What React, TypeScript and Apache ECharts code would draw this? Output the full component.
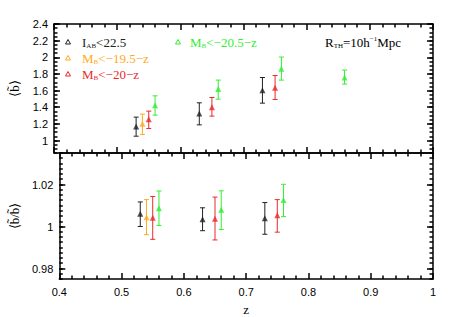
import React, { useEffect, useRef } from "react";
import * as echarts from "echarts";

// ---------- data ----------
// Top panel: <b~> vs z
const topBlackZ = [0.53, 0.63, 0.73];
const topBlackB = [1.168, 1.324, 1.605];
const topBlackLo = [1.052, 1.188, 1.449];
const topBlackHi = [1.281, 1.453, 1.757];

const topOrangeZ = [0.54];
const topOrangeB = [1.2];
const topOrangeLo = [1.072];
const topOrangeHi = [1.317];

const topRedZ = [0.55, 0.65, 0.75];
const topRedB = [1.257, 1.401, 1.633];
const topRedLo = [1.144, 1.293, 1.493];
const topRedHi = [1.353, 1.517, 1.781];

const topGreenZ = [0.56, 0.66, 0.76, 0.86];
const topGreenB = [1.425, 1.618, 1.862, 1.757];
const topGreenLo = [1.305, 1.497, 1.726, 1.678];
const topGreenHi = [1.537, 1.726, 2.003, 1.846];

// Bottom panel: <b~/b> vs z
const botBlackZ = [0.53, 0.63, 0.73];
const botBlackR = [1.0061, 1.0034, 1.0039];
const botBlackLo = [1.0, 0.998, 0.9963];
const botBlackHi = [1.0117, 1.0089, 1.0114];

const botOrangeZ = [0.54];
const botOrangeR = [1.0044];
const botOrangeLo = [0.9961];
const botOrangeHi = [1.0128];

const botRedZ = [0.55, 0.65, 0.75];
const botRedR = [1.0042, 1.0037, 1.0053];
const botRedLo = [0.9939, 0.9936, 0.9973];
const botRedHi = [1.0143, 1.014, 1.0128];

const botGreenZ = [0.56, 0.66, 0.76];
const botGreenR = [1.0087, 1.008, 1.0126];
const botGreenLo = [1.0005, 0.9986, 1.0047];
const botGreenHi = [1.0169, 1.017, 1.0201];

const topMajorTicks = [1, 1.2, 1.4, 1.6, 1.8, 2, 2.2, 2.4];
const botMajorTicks = [0.98, 1, 1.02];

const BLACK = "#222222";
const ORANGE = "#ffaa22";
const RED = "#e82a2a";
const GREEN = "#33ee33";

const SANS = "Liberation Sans";
const SERIF = "Liberation Serif";

function errSeries(name: string, z: number[], lo: number[], hi: number[], color: string, gi: number) {
  return {
    type: "custom",
    name: name + " err",
    xAxisIndex: gi * 2,
    yAxisIndex: gi * 4,
    data: z.map((v, i) => [v, lo[i], hi[i]]),
    encode: { x: 0, y: [1, 2] },
    renderItem: (params: any, api: any) => {
      const x = api.value(0);
      const p1 = api.coord([x, api.value(1)]);
      const p2 = api.coord([x, api.value(2)]);
      const w = 2.5;
      const style = { stroke: color, lineWidth: 1 };
      return {
        type: "group",
        children: [
          { type: "line", shape: { x1: p1[0], y1: p1[1], x2: p2[0], y2: p2[1] }, style },
          { type: "line", shape: { x1: p1[0] - w, y1: p1[1], x2: p1[0] + w, y2: p1[1] }, style },
          { type: "line", shape: { x1: p2[0] - w, y1: p2[1], x2: p2[0] + w, y2: p2[1] }, style },
        ],
      };
    },
    silent: true,
  };
}

function ptSeries(name: string, z: number[], b: number[], color: string, gi: number) {
  return {
    type: "scatter",
    name,
    xAxisIndex: gi * 2,
    yAxisIndex: gi * 4,
    data: z.map((v, i) => [v, b[i]]),
    symbol: "triangle",
    symbolSize: 6,
    itemStyle: { color },
    z: 5,
  };
}

function xAxes(gi: number, showLabels: boolean) {
  const common = {
    type: "value",
    gridIndex: gi,
    min: 0.4,
    max: 1,
    interval: 0.1,
    axisLine: { show: true, onZero: false, lineStyle: { color: "#000", width: 1.5 } },
    axisTick: { show: true, inside: true, length: 6, lineStyle: { color: "#000", width: 1.5 } },
    minorTick: { show: true, splitNumber: 5, length: 3.5, lineStyle: { color: "#000", width: 1.5 } },
    splitLine: { show: false },
    minorSplitLine: { show: false },
  };
  return [
    {
      ...common,
      position: "bottom",
      axisLabel: {
        show: showLabels,
        color: "#000",
        fontFamily: SANS,
        fontSize: 11,
        margin: 7,
        formatter: (v: number) => String(Math.round(v * 10) / 10),
      },
      name: showLabels ? "z" : "",
      nameLocation: "middle",
      nameGap: 24,
      nameTextStyle: { color: "#000", fontFamily: SERIF, fontSize: 13 },
    },
    { ...common, position: "top", axisLabel: { show: false } },
  ];
}

function yAxes(gi: number, min: number, max: number, minorInt: number, majors: number[], name: string, fmt: (v: number) => string) {
  const minor = {
    type: "value",
    gridIndex: gi,
    min,
    max,
    interval: minorInt,
    axisLine: { show: true, onZero: false, lineStyle: { color: "#000", width: 1.5 } },
    axisTick: { show: true, inside: true, length: 3.5, lineStyle: { color: "#000", width: 1.5 } },
    axisLabel: { show: false },
    splitLine: { show: false },
  };
  const major = {
    type: "value",
    gridIndex: gi,
    min,
    max,
    axisLine: { show: false, onZero: false },
    axisTick: { show: true, inside: true, length: 6, customValues: majors, lineStyle: { color: "#000", width: 1.5 } },
    splitLine: { show: false },
  };
  return [
    { ...minor, position: "left" },
    {
      ...major,
      position: "left",
      axisLabel: {
        show: true,
        customValues: majors,
        color: "#000",
        fontFamily: SANS,
        fontSize: 11,
        margin: 6,
        formatter: fmt,
      },
      name,
      nameLocation: "middle",
      nameGap: 33,
      nameRotate: 90,
      nameTextStyle: { color: "#000", fontFamily: SERIF, fontSize: 13 },
    },
    { ...minor, position: "right" },
    { ...major, position: "right", axisLabel: { show: false } },
  ];
}

const legendRich = (color: string) => ({
  m: { fontSize: 13, fontFamily: SERIF, fill: color, lineHeight: 14 },
  s: { fontSize: 7, fontFamily: SERIF, fill: color, lineHeight: 8, verticalAlign: "bottom" },
  p: { fontSize: 7, fontFamily: SERIF, fill: color, lineHeight: 8, verticalAlign: "top" },
});

function legendText(x: number, y: number, text: string, color: string) {
  return {
    type: "text",
    x,
    y,
    style: {
      text,
      rich: legendRich(color),
      fill: color,
      verticalAlign: "middle",
      align: "left",
    },
    silent: true,
  };
}

function legendMark(x: number, y: number, color: string) {
  return {
    type: "polygon",
    shape: { points: [[x, y - 2.5], [x - 2.5, y + 2], [x + 2.5, y + 2]] },
    style: { fill: "none", stroke: color, lineWidth: 1 },
    silent: true,
  };
}

export default function App() {
  const ref = useRef<HTMLDivElement>(null);
  useEffect(() => {
    if (!ref.current) return;
    const chart = echarts.init(ref.current, undefined, { renderer: "svg" });
    const option: any = {
      animation: false,
      backgroundColor: "#ffffff",
      grid: [
        { left: 49, top: 24, width: 384, height: 129 },
        { left: 49, top: 153, width: 384, height: 127 },
      ],
      xAxis: [...xAxes(0, false), ...xAxes(1, true)],
      yAxis: [
        ...yAxes(0, 0.85, 2.4, 0.05, topMajorTicks, "⟨b̃⟩", (v: number) => String(Math.round(v * 10) / 10)),
        ...yAxes(1, 0.975, 1.035, 0.0025, botMajorTicks, "⟨b̃/b̃⟩", (v: number) => String(Math.round(v * 100) / 100)),
      ],
      series: [
        errSeries("IAB<22.5", topBlackZ, topBlackLo, topBlackHi, BLACK, 0),
        errSeries("MB<-19.5-z", topOrangeZ, topOrangeLo, topOrangeHi, ORANGE, 0),
        errSeries("MB<-20-z", topRedZ, topRedLo, topRedHi, RED, 0),
        errSeries("MB<-20.5-z", topGreenZ, topGreenLo, topGreenHi, GREEN, 0),
        ptSeries("IAB<22.5", topBlackZ, topBlackB, BLACK, 0),
        ptSeries("MB<-19.5-z", topOrangeZ, topOrangeB, ORANGE, 0),
        ptSeries("MB<-20-z", topRedZ, topRedB, RED, 0),
        ptSeries("MB<-20.5-z", topGreenZ, topGreenB, GREEN, 0),
        errSeries("IAB<22.5 ratio", botBlackZ, botBlackLo, botBlackHi, BLACK, 1),
        errSeries("MB<-19.5-z ratio", botOrangeZ, botOrangeLo, botOrangeHi, ORANGE, 1),
        errSeries("MB<-20-z ratio", botRedZ, botRedLo, botRedHi, RED, 1),
        errSeries("MB<-20.5-z ratio", botGreenZ, botGreenLo, botGreenHi, GREEN, 1),
        ptSeries("IAB<22.5 ratio", botBlackZ, botBlackR, BLACK, 1),
        ptSeries("MB<-19.5-z ratio", botOrangeZ, botOrangeR, ORANGE, 1),
        ptSeries("MB<-20-z ratio", botRedZ, botRedR, RED, 1),
        ptSeries("MB<-20.5-z ratio", botGreenZ, botGreenR, GREEN, 1),
      ],
      graphic: [
        legendMark(68, 42, BLACK),
        legendText(82, 42, "{m|I}{s|AB}{m|<22.5}", BLACK),
        legendMark(68, 58, ORANGE),
        legendText(82, 58, "{m|M}{s|B}{m|<−19.5−z}", ORANGE),
        legendMark(68, 74, RED),
        legendText(82, 74, "{m|M}{s|B}{m|<−20−z}", RED),
        legendMark(178, 42, GREEN),
        legendText(190, 42, "{m|M}{s|B}{m|<−20.5−z}", GREEN),
        legendText(325, 42, "{m|R}{s|TH}{m|=10h}{p|−1}{m|Mpc}", "#000"),
      ],
    };
    chart.setOption(option);
    return () => chart.dispose();
  }, []);
  return <div ref={ref} style={{ position: "absolute", left: 0, top: 0, width: 457, height: 317 }} />;
}
